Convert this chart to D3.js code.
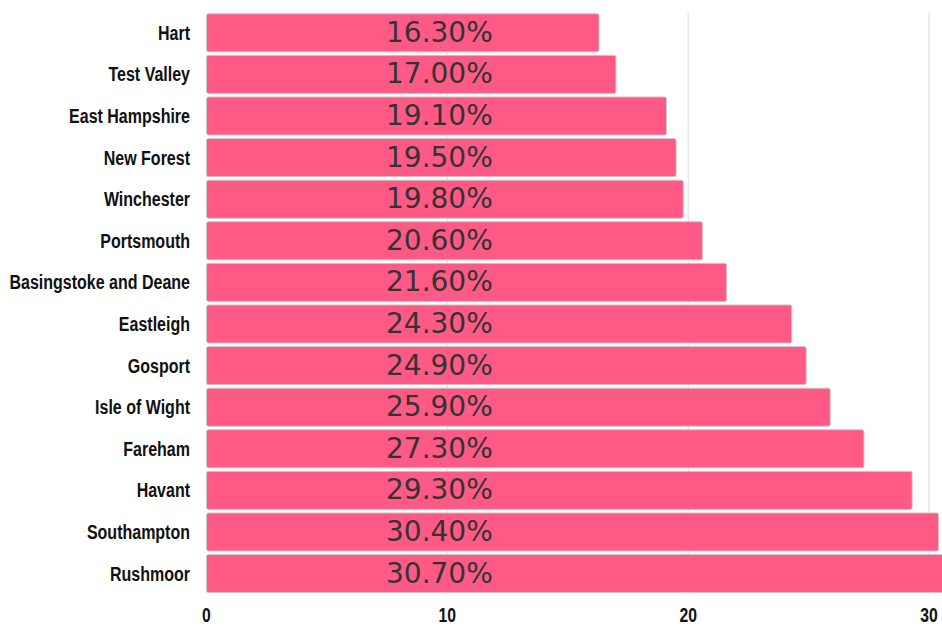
<!DOCTYPE html>
<html>
<head>
<meta charset="utf-8">
<script src="https://cdn.jsdelivr.net/npm/d3@7"></script>
<style>
  body { margin: 0; background: #fff; overflow: hidden; }
</style>
</head>
<body>
<div id="chart"></div>
<script>
const width = 942
const height = 627

const distritos = ["Hart", "Test Valley", "East Hampshire", "New Forest", "Winchester", "Portsmouth",
  "Basingstoke and Deane", "Eastleigh", "Gosport", "Isle of Wight", "Fareham", "Havant",
  "Southampton", "Rushmoor"]
const valores = [16.3, 17.0, 19.1, 19.5, 19.8, 20.6, 21.6, 24.3, 24.9, 25.9, 27.3, 29.3, 30.4, 30.7]
const ticks = [0, 10, 20, 30]

const datos = distritos.map((d, i) => ({ nombre: d, valor: valores[i] }))

// fuente condensada: Liberation Sans Bold comprimida en horizontal
const fuenteNombres = "Liberation Sans, Arial, sans-serif"

const svg = d3.select("#chart").append("svg")
    .attr("width", width)
    .attr("height", height)

const x = d3.scaleLinear()
    .domain([0, 30])
    .range([206.5, 929])

const y = d3.scaleBand()
    .domain(distritos)
    .range([12, 594.4])
    .paddingInner(0.084)
    .paddingOuter(0.042)

// lineas de grilla
svg.append("g").selectAll("line")
    .data(ticks.slice(1))
    .join("line")
    .attr("x1", d => x(d))
    .attr("x2", d => x(d))
    .attr("y1", y.range()[0])
    .attr("y2", y.range()[1])
    .attr("stroke", "#dcdcdc")
    .attr("stroke-width", 1)

// barras
svg.append("g").selectAll("rect")
    .data(datos)
    .join("rect")
    .attr("x", x(0))
    .attr("y", d => y(d.nombre))
    .attr("width", d => x(d.valor) - x(0))
    .attr("height", y.bandwidth())
    .attr("rx", 2)
    .attr("fill", "#fe5a85")
    .attr("stroke", "#c9c9c9")
    .attr("stroke-width", 1)

// etiquetas de valor
svg.append("g").selectAll("text")
    .data(datos)
    .join("text")
    .attr("x", 386)
    .attr("y", d => y(d.nombre) + y.bandwidth() / 2 + 9)
    .attr("font-family", "DejaVu Sans, sans-serif")
    .attr("font-size", 28)
    .attr("fill", "#333")
    .text(d => d.valor.toFixed(2) + "%")

// nombres
svg.append("g").selectAll("text")
    .data(datos)
    .join("text")
    .attr("transform", d => `translate(190,${y(d.nombre) + y.bandwidth() / 2 + 7}) scale(0.8,1)`)
    .attr("text-anchor", "end")
    .attr("font-family", fuenteNombres)
    .attr("font-weight", "bold")
    .attr("font-size", 20)
    .attr("fill", "#111")
    .text(d => d.nombre)

// eje x
svg.append("g").selectAll("text")
    .data(ticks)
    .join("text")
    .attr("transform", d => `translate(${x(d)},622) scale(0.75,1)`)
    .attr("text-anchor", "middle")
    .attr("font-family", fuenteNombres)
    .attr("font-weight", "bold")
    .attr("font-size", 21)
    .attr("fill", "#111")
    .text(d => d)
</script>
</body>
</html>
